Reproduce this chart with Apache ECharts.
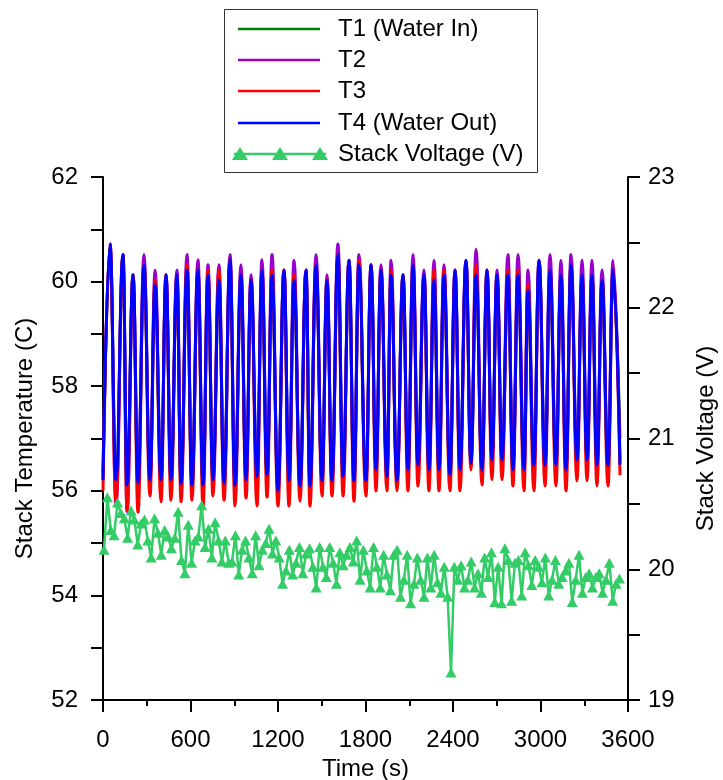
<!DOCTYPE html>
<html>
<head>
<meta charset="utf-8">
<title>Stack Temperature and Voltage</title>
<script src="https://cdn.jsdelivr.net/npm/echarts@6/dist/echarts.min.js"></script>
<style>
  html, body { margin: 0; padding: 0; background: #fff; }
  #chart { width: 723px; height: 780px; }
</style>
</head>
<body>
<div id="chart"></div>
<script>
// Sample times (s): start, then alternating peak / trough of each thermal cycle, then end
const tempTimes = [
  0, 48, 89, 137, 165, 206, 240, 281, 322, 357, 398, 432, 466, 507, 535, 576, 610, 651, 686, 720,
  754, 795, 830, 871, 905, 946, 981, 1015, 1056, 1090, 1125, 1159, 1200, 1241, 1275, 1310, 1351, 1392, 1419, 1461,
  1502, 1536, 1570, 1611, 1646, 1687, 1721, 1755, 1803, 1838, 1872, 1906, 1947, 1975, 2016, 2057, 2091, 2126, 2160, 2201,
  2235, 2270, 2304, 2338, 2379, 2414, 2448, 2489, 2523, 2558, 2599, 2633, 2667, 2702, 2736, 2777, 2811, 2846, 2887, 2914,
  2955, 2990, 3031, 3065, 3106, 3140, 3175, 3209, 3250, 3285, 3319, 3353, 3387, 3422, 3463, 3497, 3545
];

// T1 (Water In), °C
const t1Water = [
  56.35, 60.50, 56.33, 60.35, 56.25, 59.98, 56.26, 60.15, 56.33, 59.80, 56.33, 59.98, 56.33, 59.98, 56.26, 60.05,
  56.24, 60.05, 56.24, 59.98, 56.33, 59.88, 56.27, 60.25, 56.24, 59.98, 56.33, 59.88, 56.38, 60.05, 56.40, 59.98,
  56.12, 60.05, 56.30, 59.88, 56.21, 60.05, 56.21, 60.15, 56.30, 59.88, 56.30, 60.35, 56.38, 60.25, 56.30, 60.15,
  56.30, 60.15, 56.50, 60.05, 56.38, 59.98, 56.30, 59.98, 56.50, 60.15, 56.58, 59.98, 56.50, 59.88, 56.50, 59.98,
  56.40, 60.05, 56.50, 60.25, 56.62, 59.98, 56.50, 60.05, 56.68, 59.98, 56.68, 59.98, 56.50, 59.98, 56.50, 59.70,
  56.58, 60.25, 56.58, 60.05, 56.58, 59.98, 56.50, 60.15, 56.68, 59.98, 56.68, 59.98, 56.58, 59.88, 56.58, 60.05,
  57.00
];

// T2, °C
const t2Temp = [
  56.25, 60.72, 55.71, 60.52, 55.60, 60.13, 56.19, 60.52, 56.26, 60.22, 56.26, 60.13, 56.26, 60.22, 56.19, 60.52,
  56.16, 60.42, 56.16, 60.32, 56.26, 60.32, 56.19, 60.52, 56.16, 60.32, 56.26, 60.13, 56.32, 60.42, 56.35, 60.52,
  56.05, 60.22, 56.24, 60.41, 56.14, 60.22, 56.14, 60.52, 56.24, 60.13, 56.24, 60.72, 56.33, 60.41, 56.24, 60.52,
  56.24, 60.32, 56.45, 60.32, 56.33, 60.41, 56.24, 60.13, 56.45, 60.52, 56.54, 60.22, 56.45, 60.41, 56.45, 60.32,
  56.35, 60.22, 56.45, 60.41, 56.58, 60.62, 56.45, 60.22, 56.64, 60.22, 56.64, 60.52, 56.45, 60.52, 56.45, 60.22,
  56.54, 60.41, 56.54, 60.52, 56.54, 60.41, 56.45, 60.52, 56.64, 60.41, 56.64, 60.41, 56.54, 60.22, 56.54, 60.41,
  56.60
];

// T3, °C
const t3Temp = [
  56.00, 60.72, 55.79, 60.52, 55.63, 60.13, 55.59, 60.32, 55.90, 60.03, 55.79, 60.13, 55.82, 60.13, 55.79, 60.32,
  55.82, 60.22, 55.69, 60.22, 55.90, 60.22, 55.82, 60.42, 55.71, 60.13, 55.86, 60.03, 55.71, 60.22, 55.88, 60.22,
  55.71, 60.22, 55.71, 60.13, 55.80, 60.22, 55.71, 60.32, 55.90, 60.03, 55.90, 60.52, 55.90, 60.41, 55.80, 60.41,
  55.90, 60.32, 56.00, 60.22, 56.00, 60.22, 56.00, 60.13, 56.00, 60.32, 56.09, 60.13, 56.00, 60.22, 56.00, 60.22,
  56.00, 60.22, 56.00, 60.41, 56.40, 60.32, 56.11, 60.22, 56.21, 60.13, 56.21, 60.22, 56.09, 60.22, 56.00, 59.94,
  56.00, 60.41, 56.09, 60.22, 56.09, 60.13, 56.00, 60.32, 56.19, 60.13, 56.19, 60.13, 56.09, 60.03, 56.09, 60.22,
  56.30
];

// T4 (Water Out), °C
const t4Water = [
  56.20, 60.72, 56.21, 60.52, 56.11, 60.13, 56.14, 60.32, 56.21, 59.94, 56.21, 60.13, 56.21, 60.13, 56.14, 60.22,
  56.11, 60.22, 56.11, 60.13, 56.21, 60.03, 56.14, 60.42, 56.11, 60.13, 56.21, 60.03, 56.27, 60.22, 56.30, 60.13,
  56.00, 60.22, 56.19, 60.03, 56.09, 60.22, 56.09, 60.32, 56.19, 60.03, 56.19, 60.52, 56.28, 60.41, 56.19, 60.32,
  56.19, 60.32, 56.40, 60.22, 56.28, 60.13, 56.19, 60.13, 56.40, 60.32, 56.49, 60.13, 56.40, 60.03, 56.40, 60.13,
  56.30, 60.22, 56.40, 60.41, 56.53, 60.13, 56.40, 60.22, 56.59, 60.13, 56.59, 60.13, 56.40, 60.13, 56.40, 59.84,
  56.49, 60.41, 56.49, 60.22, 56.49, 60.13, 56.40, 60.32, 56.59, 60.13, 56.59, 60.13, 56.49, 60.03, 56.49, 60.22,
  56.50
];

// Stack voltage (V), logged every 23.1 s from t = 7 s
const voltageStart = 7;
const voltageStep = 23.1;
const stackVoltage = [
  20.15, 20.55, 20.30, 20.26, 20.51, 20.43, 20.39, 20.24, 20.45, 20.38, 20.19, 20.35, 20.38, 20.22, 20.09, 20.39,
  20.28, 20.11, 20.30, 20.25, 20.16, 20.24, 20.44, 20.07, 19.97, 20.34, 20.05, 20.22, 20.25, 20.49, 20.17, 20.31,
  20.09, 20.36, 20.22, 20.06, 20.22, 20.05,
  20.06, 20.26, 19.96, 20.15, 20.22, 20.09, 19.97, 20.26, 20.03, 20.15, 20.20, 20.31, 20.12, 20.22, 20.09, 19.89,
  19.99, 20.15, 19.96, 20.05, 20.17, 19.97, 20.12, 20.16, 20.02, 19.86, 20.17, 20.02, 19.94, 20.17, 20.05, 19.89,
  20.13, 20.03, 20.11, 20.17, 20.06, 20.22,
  19.92, 20.15, 19.99, 19.86, 20.17, 20.02, 19.86, 20.11, 19.96, 19.84, 20.11, 20.15, 19.79, 19.92, 20.11, 19.74,
  19.89, 20.09, 19.92, 19.79, 20.09, 19.86, 20.11, 19.90, 19.82, 20.02, 19.79, 19.21, 20.02, 19.92, 20.03, 19.86,
  19.92, 20.06, 19.86, 19.97, 19.82, 20.09, 19.94,
  20.13, 19.75, 20.02, 19.74, 20.16, 20.07, 19.76, 20.05, 20.07, 19.80, 20.13, 20.03, 19.88, 20.07, 20.02, 19.90,
  20.09, 19.80, 19.92, 20.07, 19.89, 19.94, 19.99, 20.05, 19.75, 19.92, 20.11, 19.82, 19.94, 19.97, 19.86, 19.94,
  19.97, 19.82, 19.92, 20.05, 19.76, 19.89, 19.93
];

const seriesNames = ['T1 (Water In)', 'T2', 'T3', 'T4 (Water Out)', 'Stack Voltage (V)'];
const seriesColors = ['#008000', '#9900cc', '#ff0000', '#0000ff', '#33cc66'];
const xTicks = [0, 600, 1200, 1800, 2400, 3000, 3600];

const FONT = 'Arial, "Liberation Sans", Helvetica, sans-serif';
const FONT_SIZE = 24;

function pairs(times, values) {
  return times.map((t, i) => [t, values[i]]);
}
const voltagePairs = stackVoltage.map((v, i) => [voltageStart + i * voltageStep, v]);

function tempSeries(idx, values) {
  return {
    name: seriesNames[idx],
    type: 'line',
    yAxisIndex: 0,
    data: pairs(tempTimes, values),
    symbol: 'none',
    smooth: 0.45,
    smoothMonotone: 'x',
    lineStyle: { color: seriesColors[idx], width: 3 },
    itemStyle: { color: seriesColors[idx] },
    z: 2 + idx
  };
}

// Legend drawn as a boxed key: four plain lines and a line with triangles
const legendX = 224, legendY = 9, legendW = 313, legendH = 163;
const rowY = [29, 60, 91, 123, 154];
const legendGraphics = [{
  type: 'rect',
  shape: { x: legendX + 0.5, y: legendY + 0.5, width: legendW, height: legendH },
  style: { fill: '#fff', stroke: '#333', lineWidth: 1 },
  z: 10
}];
rowY.forEach((y, i) => {
  if (i < 4) {
    legendGraphics.push({
      type: 'line',
      shape: { x1: 238, y1: y, x2: 320, y2: y },
      style: { stroke: seriesColors[i], lineWidth: 2.5 },
      z: 11
    });
  } else {
    legendGraphics.push({
      type: 'line',
      shape: { x1: 234, y1: y, x2: 326, y2: y },
      style: { stroke: seriesColors[i], lineWidth: 2.5 },
      z: 11
    });
    [240, 280, 320].forEach(cx => {
      legendGraphics.push({
        type: 'polygon',
        shape: { points: [[cx, y - 7], [cx - 8, y + 6], [cx + 8, y + 6]] },
        style: { fill: seriesColors[i] },
        z: 12
      });
    });
  }
  legendGraphics.push({
    type: 'text',
    x: 338, y: y,
    style: {
      text: seriesNames[i],
      fill: '#000',
      font: FONT_SIZE + 'px ' + FONT,
      textVerticalAlign: 'middle',
      verticalAlign: 'middle'
    },
    z: 11
  });
});

const chart = echarts.init(document.getElementById('chart'), null, { renderer: 'canvas' });

const axisLineStyle = { color: '#000', width: 2 };
const tickStyle = { color: '#000', width: 2 };
const plainNumber = v => String(v);

chart.setOption({
  animation: false,
  backgroundColor: '#fff',
  textStyle: { fontFamily: FONT },
  grid: {
    left: 103, right: 95, top: 177, bottom: 80,
    containLabel: false,
    outerBoundsMode: 'none'
  },
  graphic: legendGraphics,
  xAxis: {
    type: 'value',
    min: xTicks[0],
    max: xTicks[xTicks.length - 1],
    interval: 600,
    name: 'Time (s)',
    nameLocation: 'middle',
    nameGap: 53,
    nameTextStyle: { fontSize: FONT_SIZE, color: '#000', fontFamily: FONT },
    axisLine: { onZero: false, lineStyle: axisLineStyle },
    axisTick: { length: 12, lineStyle: tickStyle },
    minorTick: { show: true, splitNumber: 2, length: 6, lineStyle: tickStyle },
    splitLine: { show: false },
    axisLabel: { fontSize: FONT_SIZE, color: '#000', margin: 28, fontFamily: FONT, formatter: plainNumber }
  },
  yAxis: [
    {
      type: 'value',
      position: 'left',
      min: 52, max: 62, interval: 2,
      name: 'Stack Temperature (C)',
      nameLocation: 'middle',
      nameRotate: 90,
      nameGap: 66,
      nameTextStyle: { fontSize: FONT_SIZE, color: '#000', fontFamily: FONT },
      axisLine: { show: true, onZero: false, lineStyle: axisLineStyle },
      axisTick: { show: true, length: 12, lineStyle: tickStyle },
      minorTick: { show: true, splitNumber: 2, length: 12, lineStyle: tickStyle },
      splitLine: { show: false },
      axisLabel: { fontSize: FONT_SIZE, color: '#000', margin: 25, fontFamily: FONT, formatter: plainNumber }
    },
    {
      type: 'value',
      position: 'right',
      min: 19, max: 23, interval: 1,
      name: 'Stack Voltage (V)',
      nameLocation: 'middle',
      nameRotate: 90,
      nameGap: 66,
      nameTextStyle: { fontSize: FONT_SIZE, color: '#000', fontFamily: FONT },
      axisLine: { show: true, onZero: false, lineStyle: axisLineStyle },
      axisTick: { show: true, length: 12, lineStyle: tickStyle },
      minorTick: { show: true, splitNumber: 2, length: 12, lineStyle: tickStyle },
      splitLine: { show: false },
      axisLabel: { fontSize: FONT_SIZE, color: '#000', margin: 20, fontFamily: FONT, formatter: plainNumber }
    }
  ],
  series: [
    tempSeries(0, t1Water),
    tempSeries(1, t2Temp),
    tempSeries(2, t3Temp),
    tempSeries(3, t4Water),
    {
      name: seriesNames[4],
      type: 'line',
      yAxisIndex: 1,
      data: voltagePairs,
      symbol: 'triangle',
      symbolSize: [11, 10],
      showAllSymbol: true,
      lineStyle: { color: seriesColors[4], width: 2.5 },
      itemStyle: { color: seriesColors[4] },
      z: 8
    }
  ]
});
</script>
</body>
</html>
